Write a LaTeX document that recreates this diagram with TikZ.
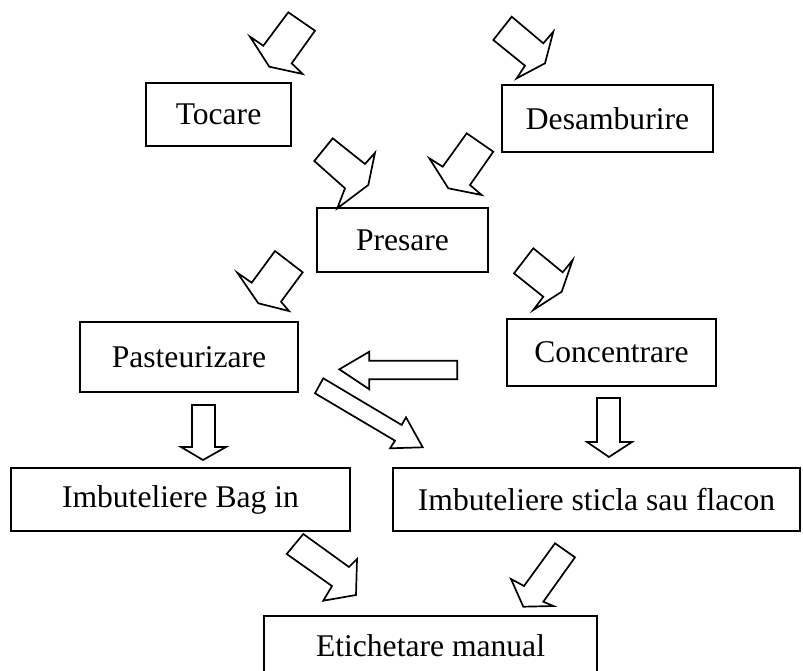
\documentclass[tikz,border=0pt]{standalone}
\usepackage{fontspec}
\setmainfont{Liberation Serif}
\begin{document}
\begin{tikzpicture}[x=1pt,y=-1pt,
  box/.style={draw,line width=1.7pt,inner sep=0pt,font=\fontsize{31.6}{36}\selectfont},
  blk/.style={draw,line width=1.7pt,line join=miter,fill=white}]
\useasboundingbox (0,0) rectangle (803,670);
% boxes
\node[box,minimum width=145pt,minimum height=63pt] (toc) at (218.5,114.5) {Tocare};
\node[box,minimum width=211pt,minimum height=67pt] (des) at (607.5,118.5) {Desamburire};
\node[box,minimum width=171pt,minimum height=64pt] (pre) at (402.5,240) {Presare};
\node[box,minimum width=218pt,minimum height=70pt] (pas) at (189,357) {Pasteurizare};
\node[box,minimum width=209pt,minimum height=67pt] (con) at (611.5,352.5) {Concentrare};
\node[box,minimum width=339pt,minimum height=63pt] (bag) at (180.5,499.5) {Imbuteliere Bag in};
\node[box,minimum width=407pt,minimum height=63pt] (sti) at (596.5,499.5) {Imbuteliere sticla sau flacon};
\node[box,minimum width=333pt,minimum height=60pt] (eti) at (430.5,646) {Etichetare manual};
% block arrows
% A: into Tocare
\draw[blk] (288.3,12.3) -- (315,30.7) -- (291.7,63.3) -- (302.7,74) -- (269.3,66.7) -- (250,36.7) -- (263.3,45.7) -- cycle;
% B: into Desamburire
\draw[blk] (511.7,16.7) -- (543.3,43.3) -- (553.3,31.7) -- (545,63.3) -- (516.7,78.3) -- (525,65.7) -- (493.3,40) -- cycle;
% C: Tocare -> Presare
\draw[blk] (332.7,138.3) -- (365,164) -- (375,152.7) -- (368.3,185) -- (337.3,208.3) -- (345,188.3) -- (314.3,161) -- cycle;
% D: Desamburire -> Presare
\draw[blk] (466.7,133.3) -- (493.3,151.7) -- (470,185) -- (481.7,195) -- (448.3,188.3) -- (429.3,158.3) -- (442.7,166.7) -- cycle;
% E: Presare -> Pasteurizare
\draw[blk] (275,251) -- (302.7,272.3) -- (281,301.7) -- (289,311) -- (258.3,303.3) -- (237.3,272.7) -- (251.7,282.7) -- cycle;
% F: Presare -> Concentrare
\draw[blk] (533.3,248.3) -- (562.7,272.3) -- (572.7,260) -- (561.7,291.7) -- (533.3,310) -- (543.3,296.7) -- (514,273.3) -- cycle;
% G: Concentrare -> Pasteurizare
\draw[blk] (457.3,360.7) -- (369.3,360.7) -- (369.3,351.7) -- (339.3,369.3) -- (369.3,389.3) -- (369.3,379.3) -- (457.3,379.3) -- cycle;
% H: Pasteurizare -> sticla
\draw[blk] (323.3,378.3) -- (401.7,425) -- (406,417.3) -- (422.7,447.3) -- (390,448.3) -- (395,440.7) -- (315,393.3) -- cycle;
% I: Pasteurizare -> Bag in
\draw[blk] (192,405) -- (215,405) -- (215,447) -- (226,447) -- (203,460) -- (181,447) -- (192,447) -- cycle;
% J: Concentrare -> sticla
\draw[blk] (597,398) -- (620,398) -- (620,442) -- (632,442) -- (609,457) -- (587,442) -- (597,442) -- cycle;
% K: Bag in -> Etichetare
\draw[blk] (303.3,534) -- (349,567) -- (357,559) -- (356,595) -- (323.3,600.7) -- (332,586) -- (286.7,554) -- cycle;
% L: sticla -> Etichetare
\draw[blk] (555,543.3) -- (575,557.3) -- (543.3,601.7) -- (553.3,606) -- (523.3,606.7) -- (511,579) -- (524,586) -- cycle;
\end{tikzpicture}
\end{document}
